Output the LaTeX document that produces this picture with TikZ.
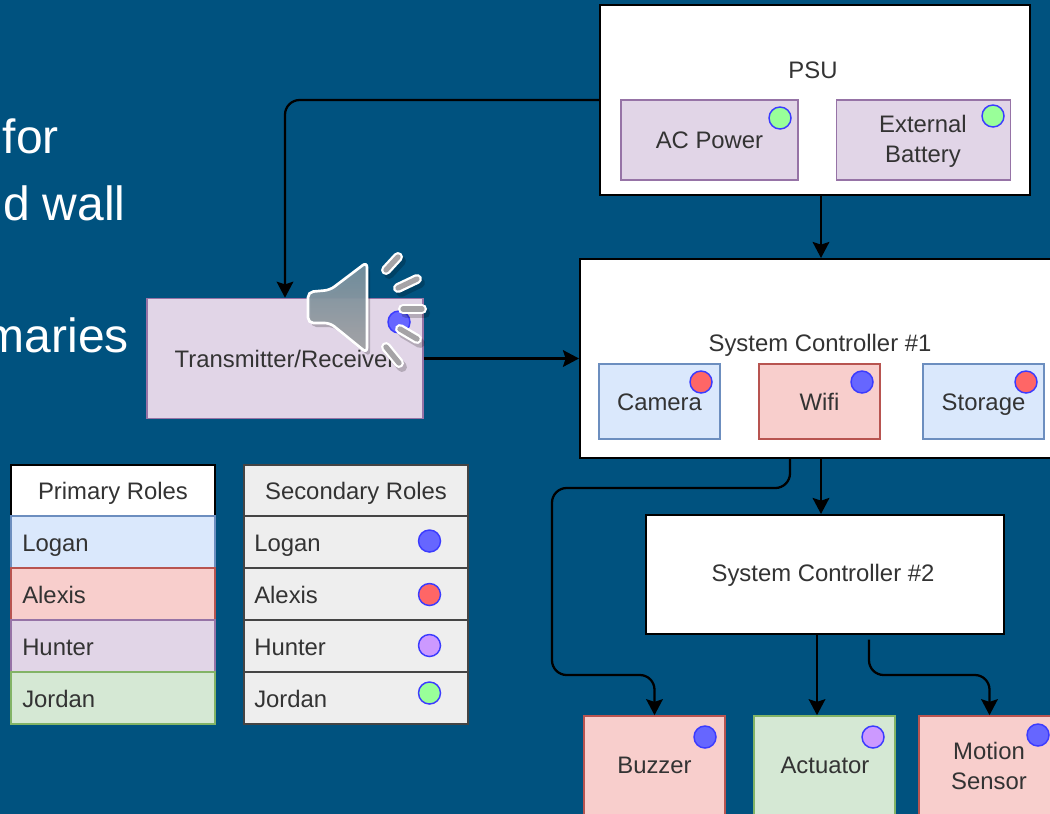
\documentclass[tikz,border=0pt]{standalone}
\usepackage{fontspec}
\setmainfont{Liberation Sans}
\usetikzlibrary{arrows.meta}
\definecolor{slidebg}{HTML}{00527F}
\definecolor{ink}{HTML}{333333}
\definecolor{bluefill}{HTML}{DAE8FC}\definecolor{bluedraw}{HTML}{6C8EBF}
\definecolor{redfill}{HTML}{F8CECC}\definecolor{reddraw}{HTML}{B85450}
\definecolor{purpfill}{HTML}{E1D5E7}\definecolor{purpdraw}{HTML}{9673A6}
\definecolor{greenfill}{HTML}{D5E8D4}\definecolor{greendraw}{HTML}{82B366}
\definecolor{greyfill}{HTML}{EEEEEE}\definecolor{greydraw}{HTML}{444444}
\definecolor{dotedge}{HTML}{3B3BFF}
\definecolor{dotblue}{HTML}{6666FF}\definecolor{dotred}{HTML}{FF6666}
\definecolor{dotpurp}{HTML}{CC99FF}\definecolor{dotgreen}{HTML}{99FF99}
\definecolor{HornTop}{HTML}{74909F}
\definecolor{HornBot}{HTML}{A5A3A6}
\tikzset{
  sz/.style 2 args={minimum width=#1*0.75pt,minimum height=#2*0.75pt},
  bodytext/.style={font=\fontsize{17.9}{22.5}\selectfont,text=ink,align=center,inner sep=0pt},
  oneline/.style={text height=12.9pt,text depth=0pt},
  whitebox/.style={draw=black,fill=white,line width=1.5pt,rectangle,inner sep=0pt},
  bluebox/.style={draw=bluedraw,fill=bluefill,line width=1.2pt,rectangle,bodytext},
  redbox/.style={draw=reddraw,fill=redfill,line width=1.2pt,rectangle,bodytext},
  purpbox/.style={draw=purpdraw,fill=purpfill,line width=1.2pt,rectangle,bodytext},
  greenbox/.style={draw=greendraw,fill=greenfill,line width=1.2pt,rectangle,bodytext},
  greybox/.style={draw=greydraw,fill=greyfill,line width=1.2pt,rectangle,bodytext},
  persondot/.style={circle,draw=dotedge,fill=#1,line width=1.1pt,minimum size=16.5pt,inner sep=0pt},
  link/.style={draw=black,line width=1.7pt,rounded corners=11pt,-{Stealth[length=12pt,width=12.5pt,inset=2pt]}},
  slideline/.style={font=\fontsize{36}{42}\selectfont,text=white,anchor=base east,inner sep=0pt},
  rowname/.style={bodytext,oneline,anchor=west},
  speakerbody/.style={draw=white,line width=2pt,rounded corners=4pt,top color=HornTop,bottom color=HornBot,fill opacity=.95},
  wavehalo/.style={draw=white,line width=7.5pt,line cap=round},
  wavecore/.style={draw=HornBot,line width=4pt,line cap=round},
}
\begin{document}
\begin{tikzpicture}[x=0.75pt,y=-0.75pt]
\useasboundingbox (0,0) rectangle (1050,814);
\clip (0,0) rectangle (1050,814);
\fill[slidebg] (0,0) rectangle (1050,814);

% slide text fragments
\node[slideline] (s1) at (59,153) {for};
\node[slideline] (s2) at (126,220) {d wall};
\node[slideline] (s3) at (129,352) {maries};

% PSU
\node[whitebox,sz={430}{190}] (psu) at (815,100) {};
\node[bodytext,oneline] (psulabel) at (813,70) {PSU};
\node[purpbox,oneline,sz={177}{80}] (ac) at (709.5,140) {AC Power};
\node[purpbox,sz={174}{80}] (ext) at (923.5,140) {};
\node[bodytext] (extlabel) at (923,141) {External\\Battery};
\node[persondot=dotgreen] (dac) at (780,118) {};
\node[persondot=dotgreen] (dext) at (993,116) {};

% System controller 1
\node[whitebox,sz={490}{199}] (sc1) at (825,358.5) {};
\node[bodytext,oneline] (sc1label) at (820,343) {System Controller \#1};
\node[bluebox,oneline,sz={121}{75}] (camera) at (659.5,401.5) {Camera};
\node[redbox,oneline,sz={121}{75}] (wifi) at (819.5,401.5) {Wifi};
\node[bluebox,oneline,sz={121}{75}] (storage) at (983.5,401.5) {Storage};
\node[persondot=dotred] (dcam) at (701,382) {};
\node[persondot=dotblue] (dwifi) at (862,382) {};
\node[persondot=dotred] (dsto) at (1026,382) {};

% System controller 2
\node[whitebox,sz={358}{119}] (sc2) at (825,574.5) {};
\node[bodytext,oneline] (sc2label) at (823,573) {System Controller \#2};

% Transmitter
\node[purpbox,oneline,sz={276}{120}] (tx) at (285,358.5) {Transmitter/Receiver};
\node[persondot=dotblue] (dtx) at (399,322) {};

% Bottom row
\node[redbox,sz={141}{114}] (buzzer) at (654.5,773) {};
\node[bodytext,oneline] (buzzerlabel) at (654.5,765) {Buzzer};
\node[greenbox,sz={141}{114}] (actuator) at (824.5,773) {};
\node[bodytext,oneline] (actuatorlabel) at (825,765) {Actuator};
\node[redbox,sz={141}{114}] (motion) at (989.5,773) {};
\node[bodytext] (motionlabel) at (989,766) {Motion\\Sensor};
\node[persondot=dotblue] (dbuz) at (705,737) {};
\node[persondot=dotpurp] (dact) at (873,737) {};
\node[persondot=dotblue] (dmot) at (1038,735) {};

% Connector anchors
\coordinate (xmain) at (821,0);
\coordinate (xbuzz) at (790,488);
\coordinate (bendA) at (552,488);
\coordinate (bendB) at (552,675);
\coordinate (xact) at (817,0);
\coordinate (xmot) at (869,675);

\draw[link] (psu.west) -| (tx.north);
\draw[link] (tx.east) -- (sc1.west);
\draw[link] (xmain |- psu.south) -- (xmain |- sc1.north);
\draw[link] (xmain |- sc1.south) -- (xmain |- sc2.north);
\draw[link] (xbuzz |- sc1.south) -- (xbuzz) -- (bendA) -- (bendB) -- (buzzer.north |- bendB) -- (buzzer.north);
\draw[link] (xact |- sc2.south) -- (xact |- actuator.north);
\draw[link,shorten <=3.5pt] (xmot |- sc2.south) -- (xmot) -- (motion.north |- xmot) -- (motion.north);

% Primary roles table
\node[whitebox,bodytext,oneline,sz={204}{51}] (phead) at (113,490.5) {Primary Roles};
\node[bluebox,sz={204}{52}] (p1) at (113,542) {};
\node[redbox,sz={204}{52}] (p2) at (113,594) {};
\node[purpbox,sz={204}{52}] (p3) at (113,646) {};
\node[greenbox,sz={204}{52}] (p4) at (113,698) {};
\node[rowname] (p1t) at (22,542.5) {Logan};
\node[rowname] (p2t) at (22,594.5) {Alexis};
\node[rowname] (p3t) at (22,646.5) {Hunter};
\node[rowname] (p4t) at (22,698.5) {Jordan};

% Secondary roles table
\node[greybox,oneline,sz={224}{51}] (shead) at (356,490.5) {Secondary Roles};
\node[greybox,sz={224}{52}] (s1r) at (356,542) {};
\node[greybox,sz={224}{52}] (s2r) at (356,594) {};
\node[greybox,sz={224}{52}] (s3r) at (356,646) {};
\node[greybox,sz={224}{52}] (s4r) at (356,698) {};
\node[rowname] (s1t) at (254,542.5) {Logan};
\node[rowname] (s2t) at (254,594.5) {Alexis};
\node[rowname] (s3t) at (254,646.5) {Hunter};
\node[rowname] (s4t) at (254,698.5) {Jordan};
\node[persondot=dotblue] (d1) at (429.5,541) {};
\node[persondot=dotred] (d2) at (429.5,594.5) {};
\node[persondot=dotpurp] (d3) at (429.5,645.5) {};
\node[persondot=dotgreen] (d4) at (429.5,693) {};

% Audio icon overlay
\fill[black,opacity=.22,rounded corners=4pt,shift={(3,4)}] (367,262) -- (330,290) -- (308,292) -- (308,323) -- (330,323) -- (367,353) -- cycle;
\path[speakerbody] (367,262) -- (330,290) -- (308,292) -- (308,323) -- (330,323) -- (367,353) -- cycle;
\foreach \xa/\ya/\xb/\yb in {386/270/398/257,398/288/417/279,403/309/422/309,400/329/417/339,386/347/399/363}{
  \draw[black,opacity=.2,line width=7.5pt,line cap=round] (\xa+3,\ya+4) -- (\xb+3,\yb+4);
  \draw[wavehalo] (\xa,\ya) -- (\xb,\yb);
  \draw[wavecore] (\xa,\ya) -- (\xb,\yb);
}
\end{tikzpicture}
\end{document}
